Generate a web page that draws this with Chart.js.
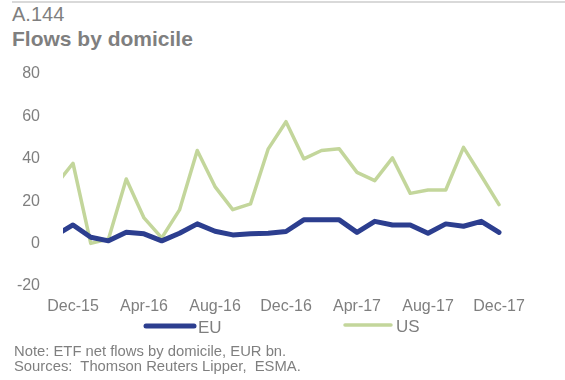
<!DOCTYPE html>
<html>
<head>
<meta charset="utf-8">
<script src="https://cdn.jsdelivr.net/npm/chart.js@4/dist/chart.umd.min.js"></script>
<style>
  html, body { margin: 0; padding: 0; background: #fff; }
  #wrap { position: relative; width: 565px; height: 380px; overflow: hidden; font-family: "Liberation Sans", Arial, sans-serif; }
  #topline { position: absolute; left: 12px; right: 0; top: 1px; height: 2px; background: #d9d9d9; }
  #num { position: absolute; left: 12px; top: 3px; font-size: 20px; color: #7f7f7f; line-height: 22px; }
  #ttl { position: absolute; left: 12px; top: 27px; font-size: 21px; font-weight: bold; color: #7f7f7f; line-height: 23px; }
  #note { position: absolute; left: 14px; top: 344px; font-size: 14.8px; color: #7f7f7f; line-height: 15px; white-space: pre; }
  canvas { position: absolute; left: 0; top: 0; }
</style>
</head>
<body>
<div id="wrap">
  <div id="topline"></div>
  <div id="num">A.144</div>
  <div id="ttl">Flows by domicile</div>
  <canvas id="c" width="565" height="380"></canvas>
  <div id="note">Note: ETF net flows by domicile, EUR bn.
Sources:  Thomson Reuters Lipper,  ESMA.</div>
</div>
<script>
// Monthly categories (Nov-15 .. Dec-17)
const months = ['Nov-15','Dec-15','Jan-16','Feb-16','Mar-16','Apr-16','May-16','Jun-16','Jul-16','Aug-16','Sep-16','Oct-16','Nov-16','Dec-16','Jan-17','Feb-17','Mar-17','Apr-17','May-17','Jun-17','Jul-17','Aug-17','Sep-17','Oct-17','Nov-17','Dec-17'];
const euValues = [3.9, 8.8, 3.0, 1.3, 5.3, 4.6, 1.3, 4.9, 9.3, 5.8, 4.1, 4.6, 4.9, 5.7, 11.2, 11.2, 11.2, 5.3, 10.5, 8.8, 8.8, 4.9, 9.3, 8.2, 10.5, 5.3];
const usValues = [27.3, 37.9, 0.1, 2.2, 30.5, 12.1, 2.7, 15.9, 43.9, 26.9, 16.0, 18.7, 44.7, 57.5, 40.0, 43.9, 44.7, 33.6, 29.7, 40.4, 23.7, 25.3, 25.3, 45.4, 32.0, 18.4];
const tickLabels = ['Dec-15','Apr-16','Aug-16','Dec-16','Apr-17','Aug-17','Dec-17'];
const yTicks = [80, 60, 40, 20, 0, -20];
const seriesNames = ['EU', 'US'];

const EU_COLOR = '#2c3e8f';
const US_COLOR = '#c3d69b';
const GREY = '#7f7f7f';

const toPoints = arr => arr.map((v, i) => ({ x: i, y: v }));

// custom legend drawn like the original (line swatches)
const legendPlugin = {
  id: 'lineLegend',
  afterDraw(chart) {
    const ctx = chart.ctx;
    const items = [
      { x0: 146, x1: 194, tx: 198, y: 326, w: 5, ds: chart.data.datasets[0] },
      { x0: 345, x1: 391, tx: 396, y: 325, w: 3.5, ds: chart.data.datasets[1] }
    ];
    ctx.save();
    items.forEach(it => {
      ctx.strokeStyle = it.ds.borderColor;
      ctx.lineWidth = it.w;
      ctx.lineCap = 'round';
      ctx.beginPath();
      ctx.moveTo(it.x0, it.y);
      ctx.lineTo(it.x1, it.y);
      ctx.stroke();
      ctx.fillStyle = GREY;
      ctx.font = '17px "Liberation Sans", Arial, sans-serif';
      ctx.textBaseline = 'middle';
      ctx.textAlign = 'left';
      ctx.fillText(it.ds.label, it.tx, it.y + 2);
    });
    ctx.restore();
  }
};

new Chart(document.getElementById('c'), {
  type: 'line',
  data: {
    datasets: [
      { label: seriesNames[0], data: toPoints(euValues), borderColor: EU_COLOR, backgroundColor: EU_COLOR, borderWidth: 5, pointRadius: 0, tension: 0, borderJoinStyle: 'round', borderCapStyle: 'round', clip: { left: 0, right: false, top: false, bottom: false } },
      { label: seriesNames[1], data: toPoints(usValues), borderColor: US_COLOR, backgroundColor: US_COLOR, borderWidth: 3.5, pointRadius: 0, tension: 0, borderJoinStyle: 'round', borderCapStyle: 'round', clip: { left: 0, right: false, top: false, bottom: false } }
    ]
  },
  options: {
    responsive: false,
    animation: false,
    events: [],
    layout: { padding: { left: 0, right: 66, top: 74, bottom: 64 } },
    plugins: { legend: { display: false }, tooltip: { enabled: false } },
    scales: {
      x: {
        type: 'linear',
        min: 1 - 10 / 17.75,
        max: months.length - 1,
        grid: { display: false },
        border: { display: false },
        afterBuildTicks(scale) {
          // one label every 4 months, starting at Dec-15
          scale.ticks = tickLabels.map(t => ({ value: months.indexOf(t) }));
        },
        afterFit(scale) { scale.height = 30; },
        ticks: {
          autoSkip: false,
          maxRotation: 0,
          padding: 3,
          color: GREY,
          font: { family: '"Liberation Sans", Arial, sans-serif', size: 16 },
          callback: (v, i) => tickLabels[i]
        }
      },
      y: {
        min: -20,
        max: 80,
        grid: { display: false },
        border: { display: false },
        afterBuildTicks(scale) { scale.ticks = yTicks.map(v => ({ value: v })); },
        afterFit(scale) { scale.width = 63; },
        ticks: {
          padding: 15,
          color: GREY,
          font: { family: '"Liberation Sans", Arial, sans-serif', size: 16 }
        }
      }
    }
  },
  plugins: [legendPlugin]
});
</script>
</body>
</html>
